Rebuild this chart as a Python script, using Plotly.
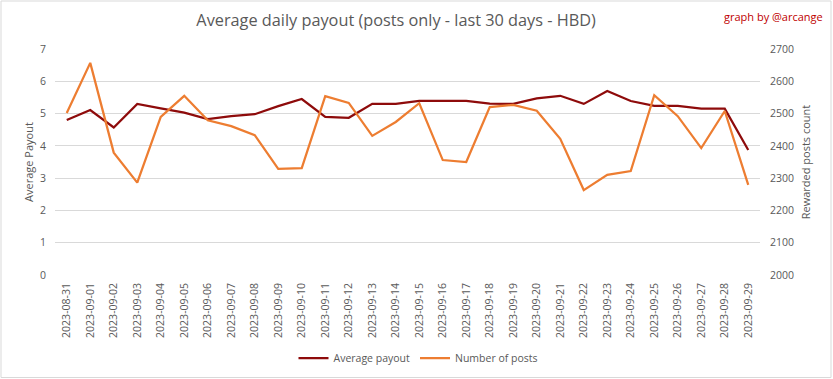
import plotly.graph_objects as go

dates = ["2023-08-31", "2023-09-01", "2023-09-02", "2023-09-03", "2023-09-04", "2023-09-05",
         "2023-09-06", "2023-09-07", "2023-09-08", "2023-09-09", "2023-09-10", "2023-09-11",
         "2023-09-12", "2023-09-13", "2023-09-14", "2023-09-15", "2023-09-16", "2023-09-17",
         "2023-09-18", "2023-09-19", "2023-09-20", "2023-09-21", "2023-09-22", "2023-09-23",
         "2023-09-24", "2023-09-25", "2023-09-26", "2023-09-27", "2023-09-28", "2023-09-29"]

avg_payout = [4.80, 5.11, 4.57, 5.30, 5.16, 5.03, 4.83, 4.92, 4.98, 5.23, 5.45, 4.90,
              4.87, 5.30, 5.30, 5.39, 5.39, 5.39, 5.31, 5.30, 5.47, 5.55, 5.30, 5.70,
              5.39, 5.24, 5.24, 5.15, 5.15, 3.87]

num_posts = [2502, 2657, 2379, 2286, 2490, 2555, 2479, 2461, 2433, 2329, 2331, 2554,
             2533, 2431, 2474, 2532, 2356, 2350, 2520, 2527, 2509, 2422, 2263, 2310,
             2322, 2557, 2492, 2393, 2508, 2279]

left_ticks = [0, 1, 2, 3, 4, 5, 6, 7]
right_ticks = [2000, 2100, 2200, 2300, 2400, 2500, 2600, 2700]

FONT = "Open Sans, sans-serif"
GRAY = "#595959"
GRID = "#D9D9D9"
TS = 10.5

fig = go.Figure()
fig.add_trace(go.Scatter(x=dates, y=avg_payout, name="Average payout", mode="lines",
                         line=dict(color="#8E0B0B", width=2.25), yaxis="y"))
fig.add_trace(go.Scatter(x=dates, y=num_posts, name="Number of posts", mode="lines",
                         line=dict(color="#ED7D31", width=2.25), yaxis="y2"))

L, R, T, B = 55, 73, 49, 104
W, H = 833, 379
pw, ph = W - L - R, H - T - B

def px_x(p):
    return (p - L) / pw

def px_y(p):
    return (H - B - p) / ph

fig.update_layout(
    width=W, height=H,
    margin=dict(l=L, r=R, t=T, b=B, pad=0, autoexpand=False),
    paper_bgcolor="white", plot_bgcolor="white",
    font=dict(family=FONT, color=GRAY, size=TS),
    title=dict(text="Average daily payout (posts only - last 30 days - HBD)",
               font=dict(family=FONT, size=16.3, color=GRAY),
               x=0.4755, xanchor="center", y=0.947, yanchor="middle"),
    showlegend=True,
    legend=dict(orientation="h", x=px_x(418), xanchor="center", y=px_y(358), yanchor="middle",
                font=dict(family=FONT, size=TS, color=GRAY), itemwidth=30,
                bgcolor="rgba(0,0,0,0)"),
    xaxis=dict(type="category", range=[-0.5, len(dates) - 0.5], tickangle=-90,
               showgrid=False, zeroline=False,
               showline=False, ticks="", tickfont=dict(family=FONT, size=TS, color=GRAY),
               ticklabelstandoff=5, automargin=False),
    yaxis=dict(range=[0, 7], tickvals=left_ticks, showgrid=True, gridcolor=GRID, gridwidth=1,
               zeroline=False, showline=False, ticks="", automargin=False,
               tickfont=dict(family=FONT, size=TS, color=GRAY),
               title=dict(text="Average Payout", font=dict(family=FONT, size=11, color=GRAY),
                          standoff=4),
               ticklabelstandoff=8),
    yaxis2=dict(range=[2000, 2700], tickvals=right_ticks, overlaying="y", side="right",
                showgrid=False, zeroline=False, showline=False, ticks="", automargin=False,
                tickfont=dict(family=FONT, size=TS, color=GRAY),
                title=dict(text="Rewarded posts count", font=dict(family=FONT, size=11, color=GRAY),
                           standoff=9),
                ticklabelstandoff=9),
    shapes=[dict(type="rect", xref="paper", yref="paper",
                 x0=px_x(1), x1=px_x(831), y0=px_y(377.5), y1=px_y(1),
                 line=dict(color=GRID, width=1), fillcolor="rgba(0,0,0,0)", layer="below")],
    annotations=[dict(text="graph by @arcange", xref="paper", yref="paper",
                      x=px_x(825), y=px_y(16), xanchor="right", yanchor="middle",
                      showarrow=False, font=dict(family=FONT, size=11, color="#C00000"))],
)

fig.write_html("out.html", config={"displayModeBar": False},
               post_script="document.body.style.margin='0';document.body.style.overflow='hidden';")
